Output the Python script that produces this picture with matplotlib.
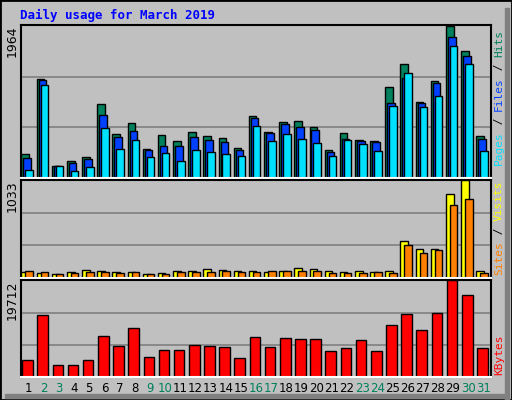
import matplotlib
matplotlib.use("Agg")
import matplotlib.pyplot as plt
from matplotlib.patches import Rectangle

days = list(range(1, 32))
weekend = [2, 3, 9, 10, 16, 17, 23, 24, 30, 31]
hits = [310,1280,155,220,270,955,570,710,375,555,480,595,540,515,390,800,595,725,735,660,360,580,490,480,1175,1475,980,1255,1964,1640,545]
files = [260,1265,155,195,245,815,530,605,360,415,415,530,490,465,360,775,580,700,660,620,335,505,480,465,970,1290,970,1230,1820,1575,505]
pages = [105,1200,155,90,140,645,375,490,270,325,220,360,335,310,285,670,480,570,505,450,285,490,440,350,930,1355,915,1060,1705,1475,350]
visits = [59,49,38,59,87,76,59,59,38,49,70,76,97,87,76,76,59,76,108,97,70,59,70,59,70,390,306,306,890,1033,70]
sites = [70,59,38,49,59,59,49,59,38,38,59,59,59,70,59,59,70,76,76,70,49,49,49,59,49,348,262,292,776,839,49]
kbytes = [3522,12667,2506,2506,3522,8400,6367,10025,4132,5554,5554,6570,6367,6164,3929,8196,6164,7993,7790,7790,5351,5961,7587,5351,10635,12870,9619,13073,19712,16731,5961]

W, H = 512, 400
fig = plt.figure(figsize=(W/100, H/100), dpi=100)
fig.patch.set_facecolor('#C0C0C0')
fig.add_artist(Rectangle((0, 0), 1, 1, transform=fig.transFigure, fill=False, lw=2, ec='black'))
fig.add_artist(Rectangle((505/W, 0), 4/W, 392/H, transform=fig.transFigure, color='#808080'))
fig.add_artist(Rectangle((5/W, 2/H), 504/W, 4/H, transform=fig.transFigure, color='#808080'))

def axes(top, bottom):
    ax = fig.add_axes([21/W, 1 - bottom/H, 470/W, (bottom - top)/H])
    ax.set_facecolor('#C0C0C0')
    for s in ax.spines.values():
        s.set_linewidth(1.5); s.set_color('black')
    ax.spines['bottom'].set_color('white')
    ax.set_xlim(0.5, 31.5)
    ax.set_xticks([])
    return ax

def finish(ax, top, label):
    ax.set_ylim(0, top * 1.005)
    for f in (1/3, 2/3):
        ax.axhline(top * f, color='#808080', lw=1.2, zorder=0)
    ax.set_yticks([top], [label])
    ax.tick_params(axis='y', length=0, pad=2, labelsize=9)
    for t in ax.get_yticklabels():
        t.set_rotation(90); t.set_va('top'); t.set_family('DejaVu Sans')

fig.text(20/W, 1 - 15/H, 'Daily usage for March 2019', color='#0000FF',
         family='DejaVu Sans Mono', weight='bold', fontsize=9, va='center')

ax1 = axes(25, 178)
kw = dict(width=0.5, edgecolor='black', linewidth=1, align='edge')
ax1.bar([d - 0.5 + 0.03 for d in days], hits, color='#00805C', **kw)
ax1.bar([d - 0.5 + 0.16 for d in days], files, color='#0040FF', **kw)
ax1.bar([d - 0.5 + 0.29 for d in days], pages, color='#00E0FF', **kw)
finish(ax1, 1964, '1964')

ax2 = axes(180, 278)
ax2.bar([d - 0.5 + 0.03 for d in days], visits, color='#FFFF00', **kw)
ax2.bar([d - 0.5 + 0.29 for d in days], sites, color='#FF8000', **kw)
finish(ax2, 1033, '1033')

ax3 = axes(280, 377)
ax3.bar([d - 0.5 + 0.08 for d in days], kbytes, width=0.7, color='#FF0000',
        edgecolor='black', linewidth=1, align='edge')
finish(ax3, 19712, '19712')
for d in days:
    ax3.text(d, -0.12, str(d), transform=ax3.get_xaxis_transform(), ha='center', va='center',
             fontsize=8.5, color='#00805C' if d in weekend else 'black')

def side(y_bottom, parts):
    y = 1 - y_bottom / H
    for txt, col in parts:
        t = fig.text(499/W, y, txt, color=col, rotation=90, family='DejaVu Sans Mono',
                     fontsize=8, ha='center', va='bottom')
        fig.canvas.draw()
        bb = t.get_window_extent()
        y += bb.height / H

side(165, [('Pages', '#00E0FF'), (' / ', 'black'), ('Files', '#0040FF'), (' / ', 'black'), ('Hits', '#00805C')])
side(275, [('Sites', '#FF8000'), (' / ', 'black'), ('Visits', '#FFFF00')])
side(375, [('KBytes', '#FF0000')])

fig.savefig('out.png', dpi=100, facecolor=fig.get_facecolor())
